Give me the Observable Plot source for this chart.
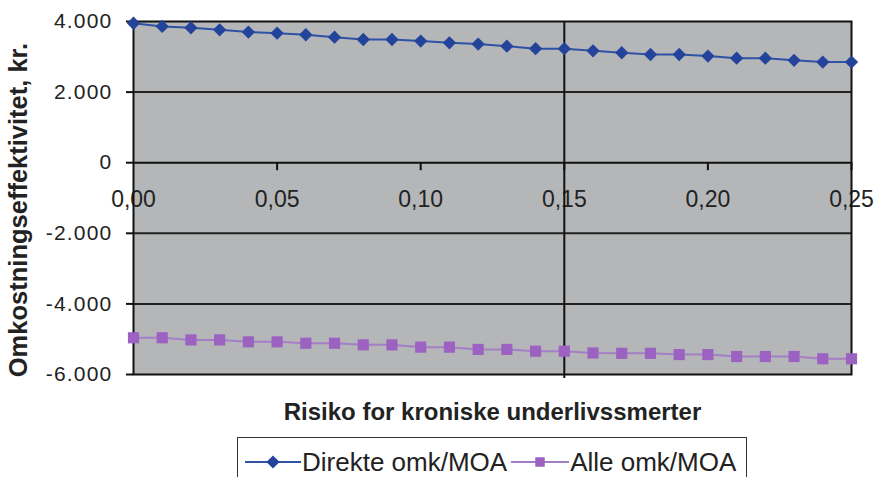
<!DOCTYPE html>
<html><head><meta charset="utf-8">
<script src="https://cdn.jsdelivr.net/npm/d3@7"></script>
<script src="https://cdn.jsdelivr.net/npm/@observablehq/plot@0.6"></script>
<style>
html,body{margin:0;padding:0;background:#fff;}
body{width:879px;height:477px;overflow:hidden;position:relative;font-family:"Liberation Sans",Arial,sans-serif;}
#chart svg{display:block;}
#chart [aria-label="y-axis tick label"] text{letter-spacing:1.2px;}
#legend{position:absolute;left:237px;top:437px;width:510px;height:50px;border:1.5px solid #333;box-sizing:border-box;display:flex;align-items:center;padding-left:7px;padding-top:0px;}
#legend .item{display:flex;align-items:center;margin-right:4px;}
#legend span{font-size:26px;color:#222;line-height:26px;margin-left:1px;}
</style></head>
<body><div id="chart"></div><div id="legend"></div>
<script>
const risk = [0.00,0.01,0.02,0.03,0.04,0.05,0.06,0.07,0.08,0.09,0.10,0.11,0.12,0.13,0.14,0.15,0.16,0.17,0.18,0.19,0.20,0.21,0.22,0.23,0.24,0.25];
const direkte = [3950,3860,3820,3765,3700,3670,3625,3555,3490,3490,3445,3395,3360,3300,3230,3230,3170,3115,3065,3065,3020,2960,2960,2900,2850,2850];
const alle = [-4960,-4960,-5020,-5020,-5075,-5075,-5115,-5115,-5160,-5160,-5225,-5225,-5290,-5290,-5340,-5340,-5390,-5400,-5400,-5435,-5435,-5490,-5490,-5490,-5555,-5555];
const seriesNames = ["Direkte omk/MOA","Alle omk/MOA"];
const seriesColors = ["#24449c","#9b62c2"];
const lineColors = ["#2f52a6","#a47ec6"];
const seriesSymbols = ["diamond2","square"];
const xTicks = [0.00,0.05,0.10,0.15,0.20,0.25];
const yTicks = [-6000,-4000,-2000,0,2000,4000];
const gridValues = [-4000,-2000,2000];
const refX = [0.15];
const xLabel = "Risiko for kroniske underlivssmerter";
const yLabel = "Omkostningseffektivitet, kr.";

const loc = d3.formatLocale({decimal:",", thousands:".", grouping:[3], currency:["",""], minus:"-"});
const fy = loc.format(",");
const fx = loc.format(".2f");

const data = risk.flatMap((r,i)=>[
  {r, v: direkte[i], s: seriesNames[0]},
  {r, v: alle[i], s: seriesNames[1]}
]);

const chart = Plot.plot({
  width: 879, height: 432,
  marginLeft: 133, marginRight: 28, marginTop: 21, marginBottom: 58,
  style: {fontFamily: "'Liberation Sans', Arial, sans-serif", background: "white", color: "#222"},
  x: {domain: [0, 0.25], axis: null},
  y: {domain: [-6000, 4000], axis: null},
  color: {domain: seriesNames, range: seriesColors},
  symbol: {domain: seriesNames, range: seriesSymbols},
  marks: [
    Plot.frame({fill: "#b4b6b8"}),
    Plot.ruleY(gridValues, {stroke: "#222", strokeWidth: 2}),
    Plot.ruleY([0], {stroke: "#111", strokeWidth: 2}),
    Plot.ruleX(xTicks.slice(1), {y1: 0, y2: 0, insetBottom: -8, stroke: "#111", strokeWidth: 2}),
    Plot.text(xTicks, {x: d => d, y: 0, text: d => fx(d), dy: 37, fontSize: 23, fill: "#222"}),
    Plot.axisY(yTicks, {tickFormat: fy, tickSize: 7, tickPadding: 14, fontSize: 21, label: null, stroke: "#111", strokeWidth: 2}),
    Plot.frame({stroke: "#111", strokeWidth: 2}),
    Plot.ruleX(refX, {stroke: "#111", strokeWidth: 2, insetBottom: -4}),
    Plot.line(data.filter(d => d.s === seriesNames[0]), {x: "r", y: "v", stroke: lineColors[0], strokeWidth: 2}),
    Plot.line(data.filter(d => d.s === seriesNames[1]), {x: "r", y: "v", stroke: lineColors[1], strokeWidth: 2}),
    Plot.dot(data.filter(d => d.s === seriesNames[0]), {x: "r", y: "v", fill: "s", symbol: "s", r: 6, stroke: "none"}),
    Plot.dot(data.filter(d => d.s === seriesNames[1]), {x: "r", y: "v", fill: "s", symbol: "s", r: 6.3, stroke: "none"}),
    Plot.text([yLabel], {frameAnchor: "left", rotate: -90, dx: -115, dy: 12, textAnchor: "middle", lineAnchor: "middle", fontSize: 25.5, fontWeight: "bold", fill: "#222"}),
    Plot.text([xLabel], {frameAnchor: "bottom", dy: 38, textAnchor: "middle", lineAnchor: "middle", fontSize: 24, fontWeight: "bold", fill: "#222"})
  ]
});
document.getElementById("chart").appendChild(chart);

// Legend
const legend = d3.select("#legend");
const symW = [56, 58];
seriesNames.forEach((name, i) => {
  const item = legend.append("div").attr("class", "item");
  const w = symW[i];
  const svg = item.append("svg").attr("width", w).attr("height", 22);
  svg.append("line").attr("x1", 0).attr("x2", w).attr("y1", 11).attr("y2", 11)
    .attr("stroke", lineColors[i]).attr("stroke-width", 2);
  svg.append("path").attr("transform", `translate(${w/2},11)`)
    .attr("d", d3.symbol(i === 0 ? d3.symbolDiamond2 : d3.symbolSquare, i === 0 ? 110 : 90)())
    .attr("fill", seriesColors[i]);
  item.append("span").text(name);
});
</script>
</body></html>
